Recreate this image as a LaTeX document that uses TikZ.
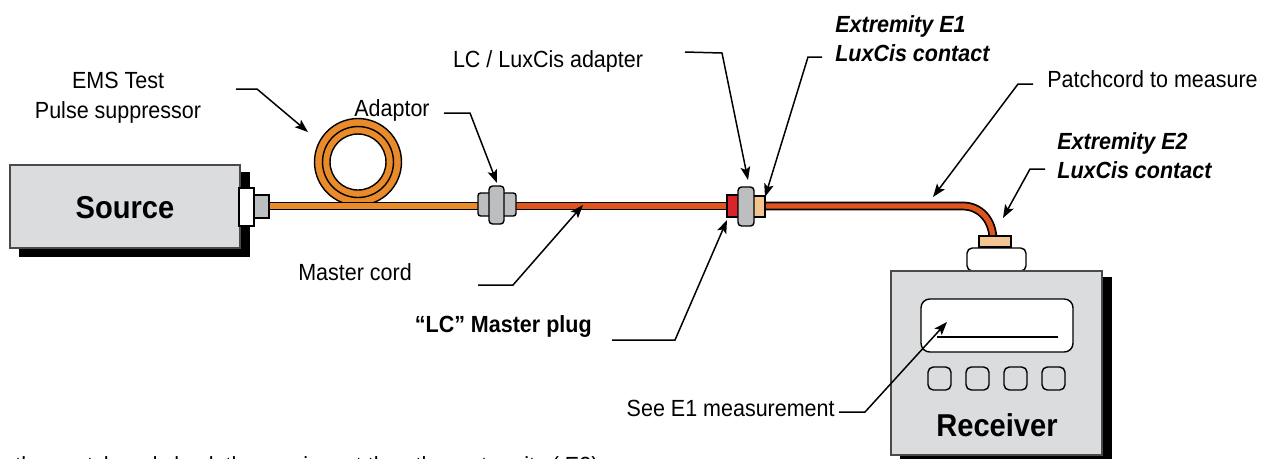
\documentclass[tikz,border=0pt]{standalone}
\usepackage{fontspec}
\setmainfont{Liberation Sans}
\newfontfamily\labfont[FakeStretch=0.92]{Liberation Sans}
\usetikzlibrary{arrows.meta}

\definecolor{boxgray}{HTML}{DADCDD}
\definecolor{boxline}{HTML}{4A4A4A}
\definecolor{ferrule}{HTML}{BDBEC0}
\definecolor{coilor}{HTML}{E98A2B}
\definecolor{mastercol}{HTML}{E0541E}
\definecolor{plugred}{HTML}{D9252A}
\definecolor{beige}{HTML}{F3C591}

\tikzset{
  lbl/.style={font=\labfont\fontsize{13.3}{17}\selectfont, inner sep=0pt, align=center},
  lblb/.style={font=\labfont\bfseries\fontsize{13.3}{17}\selectfont, inner sep=0pt},
  lblbi/.style={font=\labfont\bfseries\itshape\fontsize{13.3}{16.4}\selectfont, inner sep=0pt, align=left},
  big/.style={font=\labfont\bfseries\fontsize{18}{20}\selectfont, inner sep=0pt},
  ptr/.style={draw=black, line width=0.85pt, line join=miter,
              -{Stealth[length=7.5pt, width=5.5pt, inset=1.6pt]}},
  devbox/.style={draw=boxline, line width=0.7pt, fill=boxgray},
  part/.style={draw=black, line width=0.8pt},
  cableout/.style={line width=5pt, draw=black},
}

\begin{document}
\begin{tikzpicture}[x=0.02cm, y=-0.02cm]
\useasboundingbox (0,0) rectangle (1274,458);
\clip (0,0) rectangle (1274,458);
\fill[white] (0,0) rectangle (1274,458);

% ---------- source unit ----------
\fill[black] (19,172) rectangle (250,257);
\draw[devbox] (10,165) rectangle (240,248);
\node[big] (source) at (125,208) {Source};

% ---------- suppressor coil ----------
\draw[part, fill=coilor] (358,162) circle[radius=0.87cm];
\draw[part] (358,162) circle[radius=0.71cm];
\draw[part, fill=white] (358,162) circle[radius=0.56cm];

% ---------- cables ----------
\draw[cableout] (262,206) -- (485,206);
\draw[line width=3pt, coilor] (262,206) -- (485,206);
\draw[cableout] (510,206) -- (730,206);
\draw[line width=3pt, mastercol] (510,206) -- (730,206);
\draw[cableout] (760,206) -- (963,206) .. controls (979.5,206) and (993,219.5) .. (993,240);
\draw[line width=3pt, mastercol] (760,206) -- (963,206) .. controls (979.5,206) and (993,219.5) .. (993,240);

% ---------- source output connector ----------
\draw[part, fill=white] (239,188) rectangle (254,226);
\draw[part, fill=ferrule] (254,195) rectangle (269,218);

% ---------- adaptor ----------
\draw[part, fill=ferrule, rounded corners=1.5pt] (478,193) rectangle (516,216);
\draw[part, fill=ferrule, rounded corners=2pt] (489,186) rectangle (504,224);

% ---------- LC / LuxCis adapter with plugs ----------
\draw[part, fill=plugred] (727,195) rectangle (739,217);
\draw[part, fill=beige] (753,196) rectangle (765,217);
\draw[part, fill=ferrule, rounded corners=2pt] (738,187) rectangle (754,226);

% ---------- receiver ----------
\draw[part, fill=beige] (979,236) rectangle (1011,247);
\draw[part, fill=white, rounded corners=3pt] (967,248) rectangle (1026,271);
\fill[black] (900,277) rectangle (1112,466);
\draw[devbox] (891,271) rectangle (1102,455);
\draw[part, fill=white, rounded corners=5pt] (921,299) rectangle (1073,352);
\draw[line width=1.4pt] (937,337) -- (1058,337);
\foreach \bx in {928, 966, 1004, 1042}
  \draw[part, fill=boxgray, rounded corners=3pt] (\bx,367) rectangle ++(23,23);
\node[big] (receiver) at (997,425) {Receiver};

% ---------- labels ----------
\node[lbl] (ems) at (118,98) {EMS Test\\Pulse suppressor};
\node[lbl] (adaptor) at (392,110) {Adaptor};
\node[lbl] (lcadapt) at (548,61) {LC / LuxCis adapter};
\node[lblbi, anchor=west] (e1) at (835,39) {Extremity E1\\LuxCis contact};
\node[lbl, anchor=west] (patch) at (1047,79) {Patchcord to measure};
\node[lblbi, anchor=west] (e2) at (1057,156) {Extremity E2\\LuxCis contact};
\node[lbl] (mcord) at (355,272) {Master cord};
\node[lblb, anchor=east] (mplug) at (592,326) {“LC” Master plug};
\node[lbl, anchor=east] (seee1) at (835,408) {See E1 measurement};
\node[lbl, anchor=base west] (note) at (15,473) {then patch and check the receiver at the other extremity ( E2)};

% ---------- pointer coordinates ----------
\coordinate (emsS) at (236,89);   \coordinate (emsB) at (257,89);   \coordinate (coilT) at (308,132);
\coordinate (adS) at (444,113);   \coordinate (adB) at (470,113);   \coordinate (adT) at (497,183);
\coordinate (lcS) at (685,52);    \coordinate (lcB) at (722,53);    \coordinate (lcT) at (748,180);
\coordinate (e1S) at (822,57);    \coordinate (e1B) at (808,57);    \coordinate (e1T) at (765,197);
\coordinate (paS) at (1033,84);   \coordinate (paB) at (1018,84);   \coordinate (paT) at (933,197);
\coordinate (e2S) at (1045,169);  \coordinate (e2B) at (1030,169);  \coordinate (e2T) at (1003,218);
\coordinate (mcS) at (478,285);   \coordinate (mcB) at (513,285);   \coordinate (mcT) at (583,205);
\coordinate (mpS) at (612,340);   \coordinate (mpB) at (675,340);   \coordinate (mpT) at (727,220);
\coordinate (seS) at (839,412);   \coordinate (seB) at (865,412);   \coordinate (seT) at (947,322);

% ---------- pointers ----------
\draw[ptr] (emsS) -- (emsB) -- (coilT);
\draw[ptr] (adS) -- (adB) -- (adT);
\draw[ptr] (lcS) -- (lcB) -- (lcT);
\draw[ptr] (e1S) -- (e1B) -- (e1T);
\draw[ptr] (paS) -- (paB) -- (paT);
\draw[ptr] (e2S) -- (e2B) -- (e2T);
\draw[ptr] (mcS) -- (mcB) -- (mcT);
\draw[ptr] (mpS) -- (mpB) -- (mpT);
\draw[ptr] (seS) -- (seB) -- (seT);
\end{tikzpicture}
\end{document}
